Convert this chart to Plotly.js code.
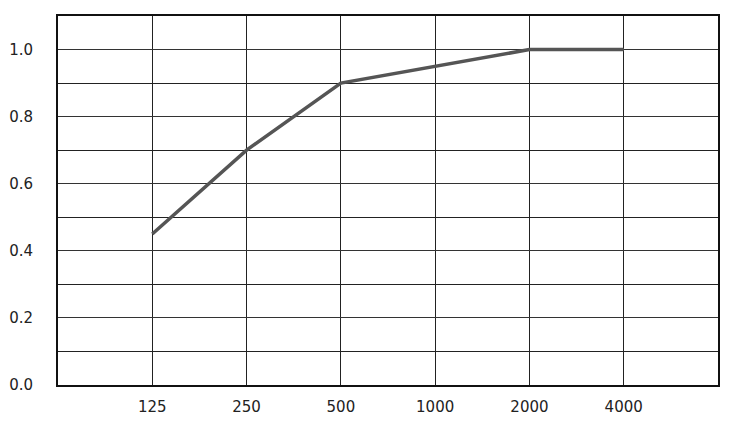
<!DOCTYPE html>
<html><head><meta charset="utf-8">
<script src="https://cdn.plot.ly/plotly-3.0.1.min.js"></script>
<style>html,body{margin:0;padding:0;background:#fff}</style>
</head><body>
<div id="chart" style="width:750px;height:421px"></div>
<script>
const frequencies = ["125", "250", "500", "1000", "2000", "4000"];
const absorption = [0.45, 0.70, 0.90, 0.95, 1.00, 1.00];
const yTickValues = [0.0, 0.2, 0.4, 0.6, 0.8, 1.0];
const yTickLabels = ["0.0", "0.2", "0.4", "0.6", "0.8", "1.0"];

const trace = {
  x: frequencies, y: absorption, type: "scatter", mode: "lines",
  line: {color: "#555555", width: 3.5}, hoverinfo: "skip"
};
const layout = {
  width: 750, height: 421,
  margin: {l: 58, r: 32, t: 16, b: 36},
  paper_bgcolor: "#fff", plot_bgcolor: "#fff",
  showlegend: false,
  font: {family: "'DejaVu Sans', sans-serif", size: 15, color: "#222"},
  xaxis: {
    type: "category", range: [-1, 6], showgrid: true, gridcolor: "#222", gridwidth: 1,
    showline: true, linecolor: "#111", linewidth: 2, mirror: true,
    ticks: "", ticklabelstandoff: 7, zeroline: false, fixedrange: true
  },
  yaxis: {
    range: [0, 1.1], tickvals: yTickValues, ticktext: yTickLabels,
    showgrid: true, gridcolor: "#333", gridwidth: 1,
    minor: {dtick: 0.1, tick0: 0, showgrid: true, gridcolor: "#222", gridwidth: 1},
    showline: true, linecolor: "#111", linewidth: 2, mirror: true,
    ticks: "", ticklabelstandoff: 20, zeroline: false, fixedrange: true
  }
};
Plotly.newPlot("chart", [trace], layout, {displayModeBar: false, staticPlot: true});
</script>
</body></html>
